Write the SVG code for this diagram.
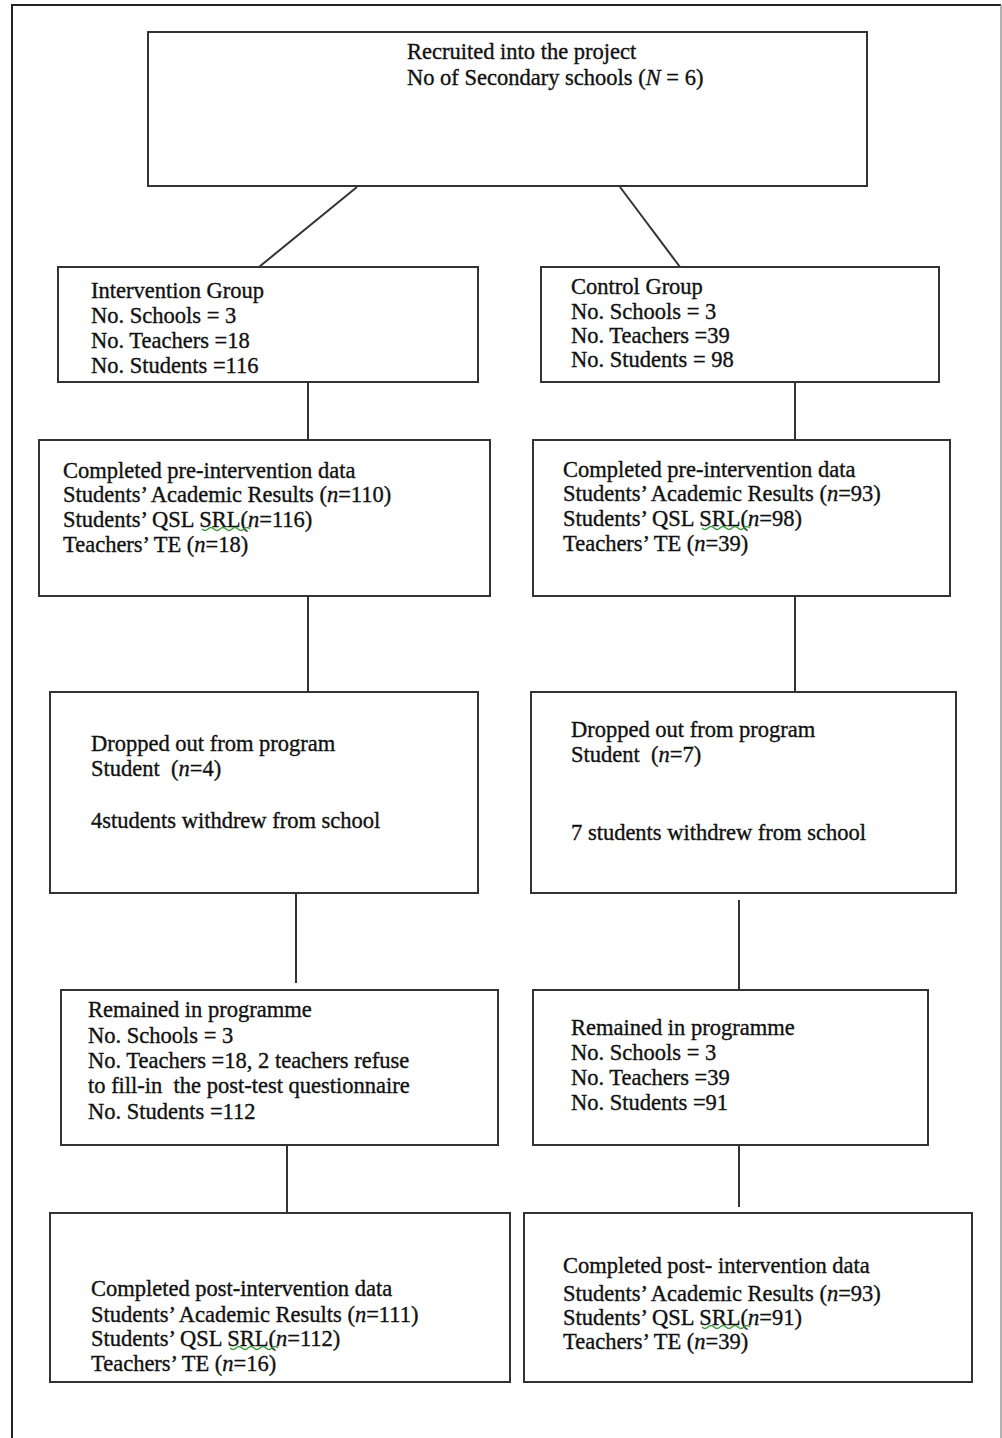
<svg xmlns="http://www.w3.org/2000/svg" width="1002" height="1438" viewBox="0 0 1002 1438">
<style>
.box{fill:#fff;stroke:#333;stroke-width:2}
.ln{stroke:#333;stroke-width:2;fill:none}
.frame{stroke:#222;stroke-width:2;fill:none}
text{font-family:"Liberation Serif","Times New Roman",serif;font-size:22.5px;fill:#111;stroke:#111;stroke-width:0.35}
.sq{stroke:#3a9a3a;stroke-width:1.3;fill:none}
</style>
<rect width="1002" height="1438" fill="#fff"/>
<path class="frame" d="M12,1438 V5 H1001"/>
<path d="M1001,5 V1438" stroke="#999" stroke-width="1.5" fill="none"/>
<g id="connectors">
<line class="ln" x1="357" y1="187" x2="259" y2="267"/>
<line class="ln" x1="620" y1="187" x2="680" y2="267"/>
<line class="ln" x1="308" y1="382" x2="308" y2="440"/>
<line class="ln" x1="795" y1="382" x2="795" y2="440"/>
<line class="ln" x1="308" y1="596" x2="308" y2="692"/>
<line class="ln" x1="795" y1="596" x2="795" y2="692"/>
<line class="ln" x1="296" y1="893" x2="296" y2="983"/>
<line class="ln" x1="739" y1="900" x2="739" y2="990"/>
<line class="ln" x1="287" y1="1145" x2="287" y2="1213"/>
<line class="ln" x1="739" y1="1145" x2="739" y2="1207"/>
</g>
<g id="recruited">
<rect class="box" x="148" y="32" width="719" height="154"/>
<text x="407" y="59">Recruited into the project</text>
<text x="407" y="85">No of Secondary schools (<tspan font-style="italic">N</tspan> = 6)</text>
</g>
<g id="intervention">
<rect class="box" x="58" y="267" width="420" height="115"/>
<text x="91" y="298">Intervention Group</text>
<text x="91" y="323">No. Schools = 3</text>
<text x="91" y="348">No. Teachers =18</text>
<text x="91" y="373">No. Students =116</text>
</g>
<g id="control">
<rect class="box" x="541" y="267" width="398" height="115"/>
<text x="571" y="294">Control Group</text>
<text x="571" y="319">No. Schools = 3</text>
<text x="571" y="343">No. Teachers =39</text>
<text x="571" y="367">No. Students = 98</text>
</g>
<g id="pre-intervention">
<rect class="box" x="39" y="440" width="451" height="156"/>
<text x="63" y="478">Completed pre-intervention data</text>
<text x="63" y="502">Students’ Academic Results (<tspan font-style="italic">n</tspan>=110)</text>
<text x="63" y="527">Students’ QSL SRL(<tspan font-style="italic">n</tspan>=116)</text>
<text x="63" y="552">Teachers’ TE (<tspan font-style="italic">n</tspan>=18)</text>
<path class="sq" d="M202,529 q3,3 6,0 t6,0 t6,0 t6,0 t6,0 t6,0 t6,0 t6,0"/>
</g>
<g id="pre-control">
<rect class="box" x="533" y="440" width="417" height="156"/>
<text x="563" y="477">Completed pre-intervention data</text>
<text x="563" y="501">Students’ Academic Results (<tspan font-style="italic">n</tspan>=93)</text>
<text x="563" y="526">Students’ QSL SRL(<tspan font-style="italic">n</tspan>=98)</text>
<text x="563" y="551">Teachers’ TE (<tspan font-style="italic">n</tspan>=39)</text>
<path class="sq" d="M702,528 q3,3 6,0 t6,0 t6,0 t6,0 t6,0 t6,0 t6,0 t6,0"/>
</g>
<g id="dropped-intervention">
<rect class="box" x="50" y="692" width="428" height="201"/>
<text x="91" y="751">Dropped out from program</text>
<text x="91" y="776">Student&#160; (<tspan font-style="italic">n</tspan>=4)</text>
<text x="91" y="828">4students withdrew from school</text>
</g>
<g id="dropped-control">
<rect class="box" x="531" y="692" width="425" height="201"/>
<text x="571" y="737">Dropped out from program</text>
<text x="571" y="762">Student&#160; (<tspan font-style="italic">n</tspan>=7)</text>
<text x="571" y="840">7 students withdrew from school</text>
</g>
<g id="remained-intervention">
<rect class="box" x="61" y="990" width="437" height="155"/>
<text x="88" y="1017">Remained in programme</text>
<text x="88" y="1043">No. Schools = 3</text>
<text x="88" y="1068">No. Teachers =18, 2 teachers refuse</text>
<text x="88" y="1093">to fill-in&#160; the post-test questionnaire</text>
<text x="88" y="1119">No. Students =112</text>
</g>
<g id="remained-control">
<rect class="box" x="533" y="990" width="395" height="155"/>
<text x="571" y="1035">Remained in programme</text>
<text x="571" y="1060">No. Schools = 3</text>
<text x="571" y="1085">No. Teachers =39</text>
<text x="571" y="1110">No. Students =91</text>
</g>
<g id="post-intervention">
<rect class="box" x="50" y="1213" width="460" height="169"/>
<text x="91" y="1296">Completed post-intervention data</text>
<text x="91" y="1322">Students’ Academic Results (<tspan font-style="italic">n</tspan>=111)</text>
<text x="91" y="1346">Students’ QSL SRL(<tspan font-style="italic">n</tspan>=112)</text>
<text x="91" y="1371">Teachers’ TE (<tspan font-style="italic">n</tspan>=16)</text>
<path class="sq" d="M230,1348 q3,3 6,0 t6,0 t6,0 t6,0 t6,0 t6,0 t6,0 t6,0"/>
</g>
<g id="post-control">
<rect class="box" x="524" y="1213" width="448" height="169"/>
<text x="563" y="1273">Completed post- intervention data</text>
<text x="563" y="1301">Students’ Academic Results (<tspan font-style="italic">n</tspan>=93)</text>
<text x="563" y="1325">Students’ QSL SRL(<tspan font-style="italic">n</tspan>=91)</text>
<text x="563" y="1349">Teachers’ TE (<tspan font-style="italic">n</tspan>=39)</text>
<path class="sq" d="M702,1327 q3,3 6,0 t6,0 t6,0 t6,0 t6,0 t6,0 t6,0 t6,0"/>
</g>
</svg>
